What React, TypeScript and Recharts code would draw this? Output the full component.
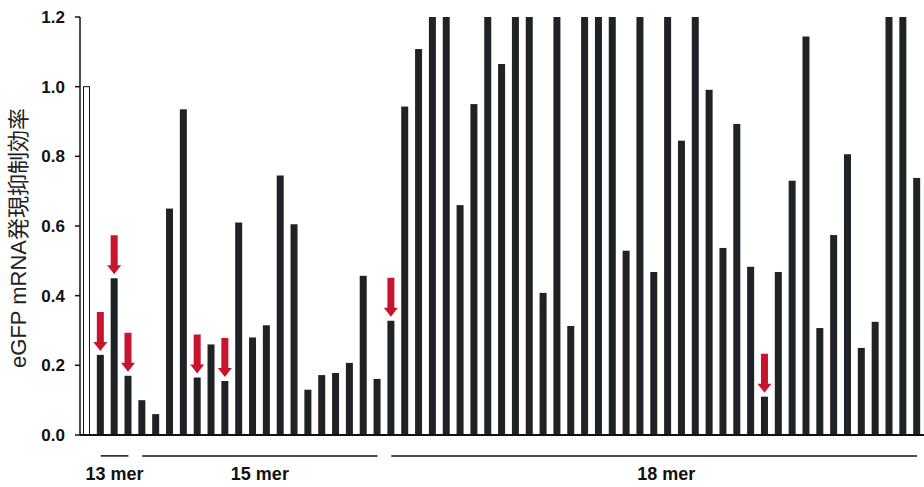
import React from "react";
import { BarChart, Bar, XAxis, YAxis, ReferenceLine } from "recharts";

// knockdown efficiency per siRNA (first bar = control)
const values = [
  1.0, 0.23, 0.45, 0.17, 0.1, 0.06, 0.65, 0.935, 0.165, 0.26, 0.155, 0.61,
  0.28, 0.315, 0.745, 0.605, 0.13, 0.172, 0.178, 0.207, 0.457, 0.161, 0.328,
  0.943, 1.108, 1.2, 1.2, 0.66, 0.95, 1.2, 1.065, 1.2, 1.2, 0.408, 1.2, 0.313,
  1.2, 1.2, 1.2, 0.529, 1.2, 0.468, 1.2, 0.845, 1.2, 0.991, 0.537, 0.893,
  0.483, 0.11, 0.468, 0.73, 1.144, 0.307, 0.574, 0.806, 0.25, 0.325, 1.2, 1.2,
  0.738,
];

// bars marked with a red arrow (0-based)
const arrowIdx = [1, 2, 3, 8, 10, 22, 49];

const yTicks = [0, 0.2, 0.4, 0.6, 0.8, 1.0, 1.2];

const groups = [
  { name: "13 mer", from: "2", to: "4", dx: 0 },
  { name: "15 mer", from: "5", to: "22", dx: 0 },
  { name: "18 mer", from: "23", to: "61", dx: 12 },
];

const data = values.map((v, i) => ({
  id: String(i + 1),
  value: v,
  arrow: arrowIdx.includes(i),
}));

const FONT = "'Liberation Sans', Arial, 'Noto Sans CJK JP', sans-serif";
const RED = "#c8142c";

const BarShape = (props: any) => {
  const { x, y, width, height, index, payload } = props;
  const cx = x + width / 2;
  const tip = y - 4;
  return (
    <g>
      {index === 0 ? (
        <rect x={x + 0.5} y={y} width={width - 1} height={height} fill="#fff" stroke="#111" strokeWidth={1} />
      ) : (
        <rect x={x} y={y} width={width} height={height} fill="#202326" />
      )}
      {payload.arrow && (
        <path
          d={`M${cx - 3.5},${tip - 39} L${cx + 3.5},${tip - 39} L${cx + 3.5},${tip - 9} L${cx + 7},${tip - 9} L${cx},${tip} L${cx - 7},${tip - 9} L${cx - 3.5},${tip - 9} Z`}
          fill={RED}
        />
      )}
    </g>
  );
};

const YLabel = (props: any) => {
  const vb = props.viewBox || {};
  const cx = 18;
  const cy = vb.y + vb.height / 2 + 12;
  return (
    <text
      x={cx}
      y={cy}
      transform={`rotate(-90, ${cx}, ${cy})`}
      textAnchor="middle"
      dominantBaseline="central"
      fontSize={22}
      fontFamily={FONT}
      fill="#222"
    >
      eGFP mRNA発現抑制効率
    </text>
  );
};

export default function App() {
  return (
    <div style={{ position: "absolute", left: 0, top: 0, background: "#fff" }}>
      <BarChart
        width={924}
        height={487}
        data={data}
        margin={{ top: 17, right: 0, bottom: 22, left: 0 }}
        barCategoryGap={0}
      >
        <XAxis
          dataKey="id"
          tick={false}
          tickLine={false}
          axisLine={{ stroke: "#111", strokeWidth: 2 }}
          height={30}
        />
        <YAxis
          width={80}
          domain={[0, 1.2]}
          ticks={yTicks}
          allowDataOverflow
          tickFormatter={(v: number) => v.toFixed(1)}
          tickSize={5}
          tickMargin={10}
          axisLine={{ stroke: "#111", strokeWidth: 1.5 }}
          tickLine={{ stroke: "#111", strokeWidth: 1.5 }}
          tick={{ fontSize: 17, fontWeight: "bold", fontFamily: FONT, fill: "#111" }}
          label={{ content: YLabel }}
        />
        <Bar dataKey="value" barSize={7} shape={BarShape} isAnimationActive={false} />
        {groups.map((g) => (
          <ReferenceLine
            key={g.name}
            segment={[
              { x: g.from, y: -0.06 },
              { x: g.to, y: -0.06 },
            ]}
            ifOverflow="visible"
            stroke="#111"
            strokeWidth={1.5}
            label={{
              value: g.name,
              position: "bottom",
              offset: 11,
              dx: g.dx,
              fontSize: 18,
              fontWeight: "bold",
              fontFamily: FONT,
              fill: "#111",
            }}
          />
        ))}
      </BarChart>
    </div>
  );
}
